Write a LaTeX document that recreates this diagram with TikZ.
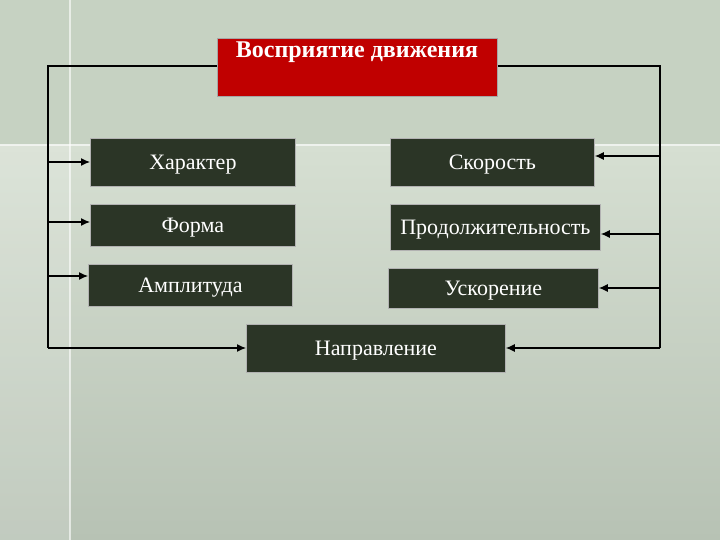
\documentclass[tikz,border=0pt]{standalone}
\usepackage{fontspec}
\setmainfont{Liberation Serif}
\usetikzlibrary{arrows.meta}
\definecolor{bgtop}{HTML}{C6D2C2}
\definecolor{bgmid}{HTML}{D6DFD2}
\definecolor{bgbot}{HTML}{B7C2B4}
\definecolor{boxf}{HTML}{2B3526}
\definecolor{redf}{HTML}{C00000}
\tikzset{
  bx/.style={draw=gray!60, line width=0.8pt, fill=boxf, text=white, font=\fontsize{22}{24}\selectfont, anchor=north west, inner sep=0pt, text depth=-3pt},
  ln/.style={line width=1.2pt, black},
  ar/.style={ln, -{Latex[length=9pt,width=8pt]}}
}
\begin{document}
\begin{tikzpicture}[x=1pt,y=-1pt]
\useasboundingbox (0,0) rectangle (720,540);
\fill[bgtop] (0,0) rectangle (720,145);
\shade[top color=bgmid, bottom color=bgbot] (0,145) rectangle (720,540);
\fill[white,opacity=0.15] (0,145) rectangle (70,540);
\draw[white,opacity=0.6,line width=1.5pt] (0,145) -- (720,145);
\draw[white,opacity=0.6,line width=1.5pt] (70,0) -- (70,540);
\node[bx, fill=redf, draw=gray!70, minimum width=280, minimum height=58] (t) at (217,38) {};
\node[text=white, font=\fontsize{24}{26}\selectfont\bfseries] (tt) at (357,52) {Восприятие движения};
\node[bx, minimum width=205, minimum height=48] (a) at (90,138) {Характер};
\node[bx, minimum width=205, minimum height=42] (b) at (90,204) {Форма};
\node[bx, minimum width=204, minimum height=42] (c) at (88,264) {Амплитуда};
\node[bx, minimum width=204, minimum height=48] (d) at (390,138) {Скорость};
\node[bx, minimum width=210, minimum height=46] (e) at (390,204) {Продолжительность};
\node[bx, minimum width=210, minimum height=40] (f) at (388,268) {Ускорение};
\node[bx, minimum width=259, minimum height=48] (g) at (246,324) {Направление};
\coordinate (tl) at (48,66);
\coordinate (tr) at (660,66);
\draw[ln] (t.west |- tl) -- (tl) -- (48,348);
\draw[ln] (t.east |- tr) -- (tr) -- (660,348);
\draw[ar] (48,162) -- (a.west |- 0,162);
\draw[ar] (48,222) -- (b.west |- 0,222);
\draw[ar] (48,276) -- (c.west |- 0,276);
\draw[ar] (48,348) -- (g.west |- 0,348);
\draw[ar] (660,156) -- (d.east |- 0,156);
\draw[ar] (660,234) -- (e.east |- 0,234);
\draw[ar] (660,288) -- (f.east |- 0,288);
\draw[ar] (660,348) -- (g.east |- 0,348);
\end{tikzpicture}
\end{document}
